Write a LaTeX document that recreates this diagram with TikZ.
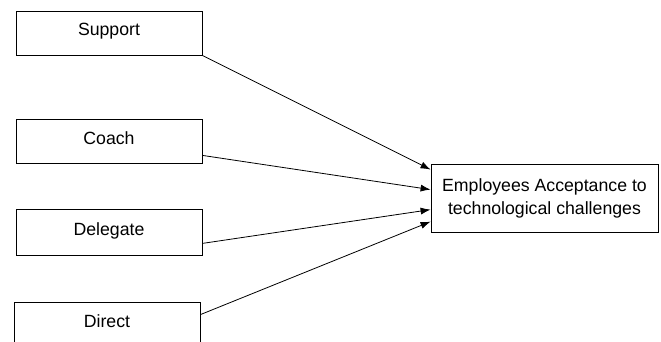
\documentclass[tikz,border=0pt]{standalone}
\usepackage{fontspec}
\setmainfont{Liberation Sans}
\usetikzlibrary{arrows.meta}

\begin{document}
\begin{tikzpicture}[x=1pt,y=-1pt,
    factor/.style={draw,line width=0.8pt,minimum width=186pt,minimum height=44pt,inner sep=0pt,
        text height=13pt,text depth=7pt,font=\fontsize{17.7}{23}\selectfont},
    link/.style={line width=0.8pt,-{Latex[length=10pt,width=7pt]}}]
    \useasboundingbox (0,0) rectangle (661,342);

    % Styles (left column)
    \node[factor] (support) at (109,33) {Support};
    \node[factor] (coach) at (109,141) {Coach};
    \node[factor,minimum height=46pt] (delegate) at (109,232) {Delegate};
    \node[factor] (direct) at (107,324) {Direct};

    % Outcome
    \node[draw,line width=0.8pt,minimum width=227pt,minimum height=68pt,inner sep=0pt,align=center,
        font=\fontsize{17.7}{23}\selectfont] (accept) at (544.5,198)
        {Employees Acceptance to\\technological challenges};

    % Arrows
    \draw[link] (support.south east) -- ([yshift=-6pt]accept.north west);
    \draw[link] ([yshift=8pt]coach.south east) -- ([yshift=-26pt]accept.north west);
    \draw[link] ([yshift=12pt]delegate.south east) -- ([yshift=-46pt]accept.north west);
    \draw[link] ([yshift=-13pt]direct.north east) -- ([yshift=-58pt]accept.north west);
\end{tikzpicture}
\end{document}
